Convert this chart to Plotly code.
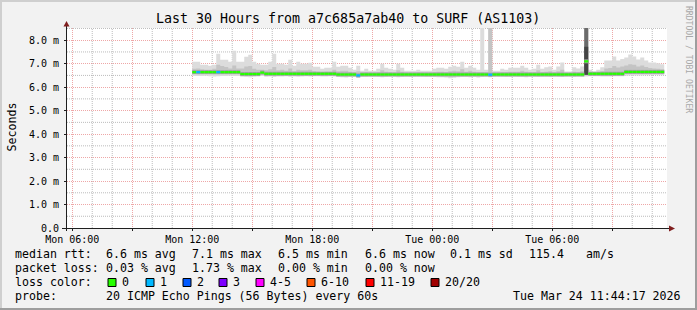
import pandas as pd
import plotly.graph_objects as go

# ---------------- data ----------------
block_start = "2026-03-23 12:00:00"   # first 12-minute RRD step
block_minutes = 12
view_start = "2026-03-23 05:44:17"
view_end = "2026-03-24 11:44:17"

median_ms = [
    6.64, 6.64, 6.64, 6.64, 6.64, 6.64, 6.64, 6.64, 6.64, 6.64,
    6.64, 6.64, 6.56, 6.56, 6.56, 6.56, 6.56, 6.62, 6.57, 6.57,
    6.57, 6.57, 6.57, 6.57, 6.57, 6.57, 6.57, 6.57, 6.57, 6.57,
    6.57, 6.57, 6.57, 6.57, 6.57, 6.57, 6.54, 6.54, 6.54, 6.54,
    6.54, 6.50, 6.54, 6.54, 6.54, 6.54, 6.54, 6.54, 6.54, 6.54,
    6.54, 6.54, 6.54, 6.54, 6.54, 6.54, 6.54, 6.54, 6.54, 6.54,
    6.54, 6.54, 6.54, 6.54, 6.54, 6.54, 6.54, 6.54, 6.54, 6.54,
    6.54, 6.54, 6.54, 6.54, 6.53, 6.54, 6.54, 6.54, 6.54, 6.54,
    6.54, 6.54, 6.54, 6.54, 6.54, 6.54, 6.54, 6.54, 6.54, 6.54,
    6.54, 6.54, 6.54, 6.54, 6.54, 6.54, 6.54, 6.54, 7.10, 6.57,
    6.57, 6.57, 6.57, 6.57, 6.57, 6.57, 6.57, 6.57, 6.65, 6.65,
    6.65, 6.65, 6.65, 6.65, 6.65, 6.65, 6.65, 6.65,
]
loss_level = [
    0, 1, 0, 0, 0, 0, 1, 0, 0, 0,
    0, 0, 0, 0, 0, 0, 0, 0, 0, 0,
    0, 0, 0, 0, 0, 0, 0, 0, 0, 0,
    0, 0, 0, 0, 0, 0, 0, 0, 0, 0,
    0, 1, 0, 0, 0, 0, 0, 0, 0, 0,
    0, 0, 0, 0, 0, 0, 0, 0, 0, 0,
    0, 0, 0, 0, 0, 0, 0, 0, 0, 0,
    0, 0, 0, 0, 1, 0, 0, 0, 0, 0,
    0, 0, 0, 0, 0, 0, 0, 0, 0, 0,
    0, 0, 0, 0, 0, 0, 0, 0, 0, 0,
    0, 0, 0, 0, 0, 0, 0, 0, 0, 0,
    0, 0, 0, 0, 0, 0, 0, 0,
]
smoke_max_ms = [
    7.08, 7.08, 6.95, 6.95, 6.91, 6.95, 7.42, 7.17, 7.17, 7.08,
    7.55, 7.08, 7.08, 7.30, 7.38, 7.08, 7.00, 6.95, 6.95, 7.08,
    7.42, 7.00, 7.00, 6.95, 7.17, 6.91, 7.08, 7.00, 7.00, 7.04,
    6.87, 6.87, 6.78, 6.83, 6.83, 7.08, 6.87, 6.91, 6.91, 6.83,
    6.74, 6.91, 6.70, 6.78, 6.70, 6.70, 6.78, 7.00, 6.83, 6.78,
    6.74, 7.00, 6.83, 6.70, 6.70, 6.70, 6.74, 6.70, 6.70, 6.70,
    6.78, 6.83, 6.83, 6.78, 6.87, 6.91, 6.87, 7.08, 6.83, 6.91,
    6.83, 6.74, 9.90, 6.74, 9.90, 6.70, 6.70, 6.78, 6.74, 6.83,
    6.83, 6.83, 6.91, 6.83, 6.74, 6.78, 6.95, 6.78, 6.85, 6.88,
    6.74, 6.88, 7.05, 6.67, 6.67, 6.85, 6.80, 6.88, 9.90, 6.74,
    6.67, 6.74, 6.85, 7.14, 7.14, 7.31, 7.14, 7.20, 7.26, 7.39,
    7.31, 7.18, 7.26, 7.14, 7.05, 7.05, 7.02, 6.98,
]
smoke_inner_hi_ms = [
    6.78, 6.80, 6.76, 6.74, 6.74, 6.78, 6.95, 6.90, 6.86, 6.80,
    6.92, 6.80, 6.80, 6.88, 6.90, 6.78, 6.74, 6.74, 6.72, 6.76,
    6.86, 6.72, 6.74, 6.70, 6.80, 6.68, 6.74, 6.72, 6.72, 6.74,
    6.68, 6.66, 6.64, 6.66, 6.66, 6.74, 6.68, 6.70, 6.70, 6.66,
    6.62, 6.68, 6.62, 6.64, 6.62, 6.62, 6.64, 6.72, 6.66, 6.64,
    6.62, 6.72, 6.66, 6.62, 6.62, 6.62, 6.63, 6.62, 6.62, 6.62,
    6.64, 6.66, 6.66, 6.64, 6.68, 6.70, 6.68, 6.76, 6.66, 6.70,
    6.66, 6.63, 6.64, 6.62, 9.90, 6.62, 6.62, 6.64, 6.63, 6.66,
    6.66, 6.66, 6.70, 6.66, 6.63, 6.64, 6.72, 6.64, 6.66, 6.68,
    6.62, 6.68, 6.74, 6.60, 6.60, 6.66, 6.64, 6.68, 9.90, 6.64,
    6.62, 6.64, 6.68, 6.80, 6.82, 6.90, 6.84, 6.88, 6.92, 6.98,
    6.95, 6.88, 6.92, 6.86, 6.82, 6.80, 6.78, 6.76,
]
smoke_inner_lo_ms = [
    6.56, 6.55, 6.56, 6.57, 6.56, 6.55, 6.55, 6.56, 6.56, 6.57,
    6.56, 6.56, 6.49, 6.49, 6.48, 6.49, 6.49, 6.54, 6.50, 6.50,
    6.49, 6.50, 6.50, 6.51, 6.50, 6.50, 6.49, 6.50, 6.50, 6.50,
    6.50, 6.51, 6.50, 6.50, 6.50, 6.50, 6.47, 6.47, 6.46, 6.47,
    6.47, 6.44, 6.47, 6.47, 6.47, 6.48, 6.47, 6.46, 6.47, 6.47,
    6.47, 6.46, 6.47, 6.48, 6.47, 6.47, 6.47, 6.48, 6.47, 6.47,
    6.47, 6.47, 6.46, 6.46, 6.45, 6.45, 6.46, 6.47, 6.47, 6.46,
    6.47, 6.46, 6.47, 6.47, 6.46, 6.47, 6.47, 6.48, 6.47, 6.47,
    6.47, 6.47, 6.47, 6.46, 6.47, 6.47, 6.47, 6.47, 6.48, 6.47,
    6.48, 6.47, 6.47, 6.48, 6.48, 6.47, 6.48, 6.47, 6.50, 6.50,
    6.50, 6.50, 6.50, 6.49, 6.49, 6.50, 6.50, 6.50, 6.57, 6.56,
    6.57, 6.57, 6.56, 6.57, 6.57, 6.58, 6.57, 6.57,
]
smoke_min_ms = [
    6.48, 6.47, 6.47, 6.49, 6.46, 6.45, 6.46, 6.48, 6.48, 6.49,
    6.47, 6.48, 6.44, 6.43, 6.42, 6.44, 6.45, 6.48, 6.44, 6.45,
    6.43, 6.45, 6.45, 6.46, 6.44, 6.45, 6.44, 6.45, 6.46, 6.45,
    6.46, 6.46, 6.45, 6.45, 6.46, 6.45, 6.43, 6.42, 6.41, 6.43,
    6.43, 6.40, 6.43, 6.43, 6.44, 6.44, 6.43, 6.42, 6.43, 6.44,
    6.44, 6.42, 6.43, 6.44, 6.43, 6.44, 6.44, 6.44, 6.43, 6.43,
    6.43, 6.42, 6.42, 6.41, 6.38, 6.40, 6.42, 6.43, 6.43, 6.42,
    6.43, 6.41, 6.43, 6.44, 6.42, 6.44, 6.44, 6.44, 6.43, 6.43,
    6.44, 6.43, 6.43, 6.42, 6.44, 6.44, 6.43, 6.44, 6.44, 6.43,
    6.45, 6.44, 6.43, 6.45, 6.45, 6.44, 6.45, 6.44, 6.45, 6.46,
    6.46, 6.46, 6.45, 6.45, 6.45, 6.46, 6.46, 6.46, 6.49, 6.50,
    6.50, 6.50, 6.50, 6.51, 6.51, 6.52, 6.51, 6.51,
]
# dense smoke (many pings spread high) in the spike block
dense_block = [98]
dense_lo_ms = [6.53]
dense_hi_ms = [9.90]
core_block = [98]
core_lo_ms = [6.53]
core_hi_ms = [7.72]

x_major_times = [
    "2026-03-23 06:00", "2026-03-23 09:00", "2026-03-23 12:00", "2026-03-23 15:00",
    "2026-03-23 18:00", "2026-03-23 21:00", "2026-03-24 00:00", "2026-03-24 03:00",
    "2026-03-24 06:00", "2026-03-24 09:00",
]
x_major_labels = ["Mon 06:00", "", "Mon 12:00", "", "Mon 18:00", "", "Tue 00:00", "", "Tue 06:00", ""]
y_tick_values = [0, 1, 2, 3, 4, 5, 6, 7, 8]
y_tick_labels = ["0.0", "1.0 m", "2.0 m", "3.0 m", "4.0 m", "5.0 m", "6.0 m", "7.0 m", "8.0 m"]
y_minor_values = [0.5, 1.5, 2.5, 3.5, 4.5, 5.5, 6.5, 7.5, 8.5]
x_minor_start = "2026-03-23 06:00:00"
x_minor_count = 30   # hourly grid lines

loss_names = ["0", "1", "2", "3", "4-5", "6-10", "11-19", "20/20"]
loss_colors = ["#26ff00", "#00b8ff", "#0059ff", "#7e00ff", "#ff00ff", "#ff5500", "#ff0000", "#a00000"]

title_text = "Last 30 Hours from a7c685a7ab40 to SURF (AS1103)"
rtt_row = ["median rtt:", "6.6 ms avg", "7.1 ms max", "6.5 ms min", "6.6 ms now", "0.1 ms sd", "115.4", "am/s"]
loss_row = ["packet loss:", "0.03 % avg", "1.73 % max", "0.00 % min", "0.00 % now"]
probe_row = ["probe:", "20 ICMP Echo Pings (56 Bytes) every 60s"]
stamp_text = "Tue Mar 24 11:44:17 2026"

# ---------------- geometry helpers (pixels -> paper) ----------------
W, H = 697, 310
PL, PR, PT, PB = 67, 667, 28, 228
MONO = "DejaVu Sans Mono"


def fx(px):
    return (px - PL) / (PR - PL)


def fy(py):
    return (PB - py) / (PB - PT)


n = len(median_ms)
t0 = pd.Timestamp(block_start)
times = [(t0 + pd.Timedelta(minutes=block_minutes * k)).strftime("%Y-%m-%d %H:%M:%S") for k in range(n + 1)]
x_minor_times = [(pd.Timestamp(x_minor_start) + pd.Timedelta(hours=h)).strftime("%Y-%m-%d %H:%M:%S")
                 for h in range(x_minor_count) if h % 3 != 0]

fig = go.Figure()


def add_band(xs, lo, hi, color):
    fig.add_trace(go.Scatter(x=xs, y=lo, mode="lines", line=dict(width=0, shape="hv"),
                             hoverinfo="skip", showlegend=False))
    fig.add_trace(go.Scatter(x=xs, y=hi, mode="lines", line=dict(width=0, shape="hv"),
                             fill="tonexty", fillcolor=color, hoverinfo="skip", showlegend=False))


add_band(times, smoke_min_ms + [smoke_min_ms[-1]], smoke_max_ms + [smoke_max_ms[-1]], "#DCDCDC")
add_band(times, smoke_inner_lo_ms + [smoke_inner_lo_ms[-1]], smoke_inner_hi_ms + [smoke_inner_hi_ms[-1]], "#C4C4C4")
for i, lo, hi in zip(dense_block, dense_lo_ms, dense_hi_ms):
    add_band([times[i], times[i + 1]], [lo, lo], [hi, hi], "#6B6B6B")
for i, lo, hi in zip(core_block, core_lo_ms, core_hi_ms):
    add_band([times[i], times[i + 1]], [lo, lo], [hi, hi], "#454545")

# dark seam under the median
sx, sy = [], []
for k in range(n):
    sx += [times[k], times[k + 1], None]
    sy += [median_ms[k], median_ms[k], None]
fig.add_trace(go.Scatter(x=sx, y=sy, mode="lines", line=dict(color="#A0A0A0", width=4),
                         hoverinfo="skip", showlegend=False))

# median coloured by loss
for lvl, col in enumerate(loss_colors):
    mx, my = [], []
    for k in range(n):
        if loss_level[k] == lvl:
            mx += [times[k], times[k + 1], None]
            my += [median_ms[k], median_ms[k], None]
    if mx:
        fig.add_trace(go.Scatter(x=mx, y=my, mode="lines", line=dict(color=col, width=2.2),
                                 hoverinfo="skip", showlegend=False))

GRID = "rgba(143,143,143,0.6)"
MGRID = "rgba(222,79,79,0.5)"

fig.update_layout(
    width=W, height=H,
    margin=dict(l=PL, r=W - PR, t=PT, b=H - PB, pad=0),
    paper_bgcolor="#F2F2F2", plot_bgcolor="#FFFFFF",
    showlegend=False,
    font=dict(family=MONO, size=10, color="#000000"),
    xaxis=dict(
        type="date", range=[view_start, view_end], fixedrange=True,
        tickmode="array", tickvals=x_major_times, ticktext=x_major_labels,
        showgrid=True, gridcolor=MGRID, gridwidth=1, griddash="1px,1px",
        ticks="outside", ticklen=2, tickcolor="#1F1F1F", tickwidth=1,
        tickfont=dict(family=MONO, size=10, color="#000000"),
        showline=False, zeroline=False,
    ),
    yaxis=dict(
        range=[0, 8.52], fixedrange=True,
        tickmode="array", tickvals=y_tick_values, ticktext=y_tick_labels,
        showgrid=True, gridcolor=MGRID, gridwidth=1, griddash="1px,1px",
        ticks="outside", ticklen=2, tickcolor="#1F1F1F", tickwidth=1,
        tickfont=dict(family=MONO, size=10, color="#000000"),
        ticklabelstandoff=3,
        showline=False, zeroline=False,
    ),
)

shapes = []
# minor grid (grey dotted)
for t in x_minor_times:
    shapes.append(dict(type="line", xref="x", yref="paper", x0=t, x1=t, y0=0, y1=1, layer="below",
                       line=dict(color=GRID, width=1, dash="1px,1px")))
for v in y_minor_values:
    shapes.append(dict(type="line", xref="paper", yref="y", x0=0, x1=1, y0=v, y1=v, layer="below",
                       line=dict(color=GRID, width=1, dash="1px,1px")))
# image frame (rrdtool shade A / shade B)
shapes.append(dict(type="line", xref="paper", yref="paper", x0=fx(0), x1=fx(W), y0=fy(1), y1=fy(1),
                   line=dict(color="#CFCFCF", width=2)))
shapes.append(dict(type="line", xref="paper", yref="paper", x0=fx(1), x1=fx(1), y0=fy(0), y1=fy(H),
                   line=dict(color="#CFCFCF", width=2)))
shapes.append(dict(type="line", xref="paper", yref="paper", x0=fx(0), x1=fx(W), y0=fy(H - 1), y1=fy(H - 1),
                   line=dict(color="#9E9E9E", width=2)))
shapes.append(dict(type="line", xref="paper", yref="paper", x0=fx(W - 1), x1=fx(W - 1), y0=fy(0), y1=fy(H),
                   line=dict(color="#9E9E9E", width=2)))
# axes
shapes.append(dict(type="line", xref="paper", yref="paper", x0=fx(66.5), x1=fx(66.5), y0=fy(231), y1=fy(24),
                   line=dict(color="#1F1F1F", width=1), layer="above"))
shapes.append(dict(type="line", xref="paper", yref="paper", x0=fx(62), x1=fx(670), y0=fy(228.5), y1=fy(228.5),
                   line=dict(color="#1F1F1F", width=1), layer="above"))
# arrows
shapes.append(dict(type="path", xref="paper", yref="paper", layer="above",
                   path=f"M {fx(63.5)},{fy(26.5)} L {fx(66.5)},{fy(21)} L {fx(69.5)},{fy(26.5)} Z",
                   fillcolor="#801F1F", line=dict(width=0)))
shapes.append(dict(type="path", xref="paper", yref="paper", layer="above",
                   path=f"M {fx(669)},{fy(225.5)} L {fx(675)},{fy(228.5)} L {fx(669)},{fy(231.5)} Z",
                   fillcolor="#801F1F", line=dict(width=0)))

# loss colour boxes
box_left = [108, 146, 183, 219, 256, 307, 366, 431]
for bx, col in zip(box_left, loss_colors):
    shapes.append(dict(type="rect", xref="paper", yref="paper", x0=fx(bx), x1=fx(bx + 8),
                       y0=fy(278.5), y1=fy(286.5), fillcolor=col, line=dict(color="#000000", width=1)))
fig.update_layout(shapes=shapes)

ann = []


def text(s, px, py, size=11.6, xanchor="left", color="#000000", angle=0):
    ann.append(dict(text=s, x=fx(px), y=fy(py), xref="paper", yref="paper", showarrow=False,
                    xanchor=xanchor, yanchor="middle", textangle=angle, borderpad=0, borderwidth=0,
                    font=dict(family=MONO, size=size, color=color)))


text(title_text, 348, 18.5, size=13.3, xanchor="center")
text("Seconds", 11, 127.5, size=11.6, xanchor="center", angle=-90)
text("RRDTOOL / TOBI OETIKER", 689, 59, size=8.1, xanchor="center", color="#A8A8A8", angle=90)

seg_x = [15, 106, 192, 278, 365, 450, 529, 585.5]
for s, x in zip(rtt_row, seg_x):
    text(s, x, 254.3)
for s, x in zip(loss_row, seg_x):
    text(s, x, 268.3)
text("loss color:", 15, 282.3)
for bx, name in zip(box_left, loss_names):
    text(name, bx + 14, 282.3)
text(probe_row[0], 15, 296.3)
text(probe_row[1], 106, 296.3)
text(stamp_text, 681, 296.3, xanchor="right")

fig.update_layout(annotations=ann)
fig.write_html("out.html")
